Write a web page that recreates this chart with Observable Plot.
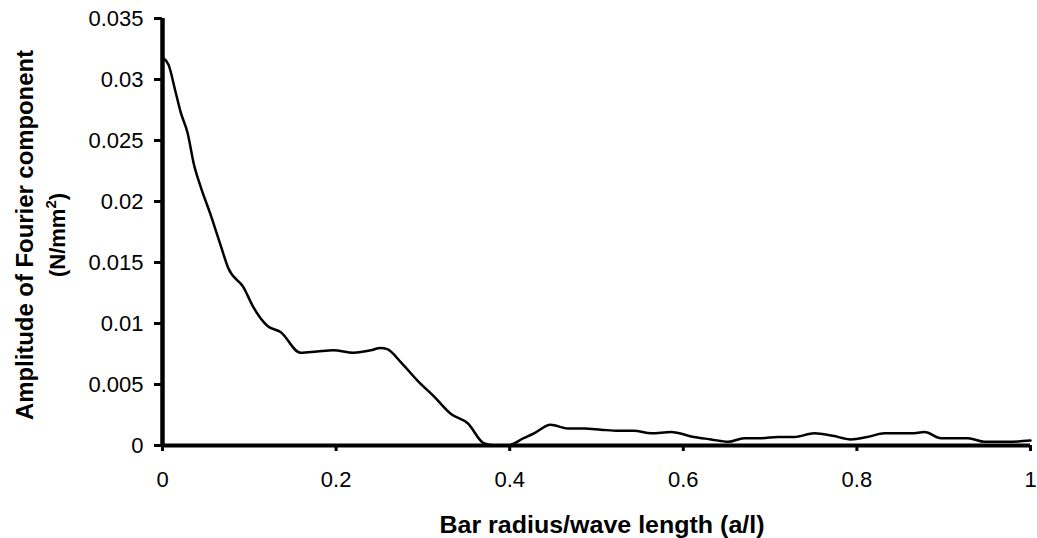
<!DOCTYPE html>
<html>
<head>
<meta charset="utf-8">
<script src="https://cdn.jsdelivr.net/npm/d3@7"></script>
<script src="https://cdn.jsdelivr.net/npm/@observablehq/plot@0.6"></script>
<style>
  html, body { margin: 0; padding: 0; background: #fff; }
  #chart svg { display: block; font-family: "Liberation Sans", Arial, sans-serif; }
</style>
</head>
<body>
<div id="chart"></div>
<script>
const ratio = [0, 0.007, 0.015, 0.021, 0.029, 0.036, 0.044, 0.055, 0.067, 0.076, 0.093, 0.105, 0.121, 0.136, 0.159, 0.178, 0.197, 0.220, 0.240, 0.251, 0.259, 0.275, 0.294, 0.313, 0.332, 0.352, 0.370, 0.385, 0.398, 0.416, 0.428, 0.447, 0.467, 0.486, 0.505, 0.525, 0.543, 0.563, 0.586, 0.612, 0.632, 0.652, 0.670, 0.690, 0.709, 0.728, 0.751, 0.772, 0.793, 0.812, 0.832, 0.863, 0.878, 0.897, 0.928, 0.947, 0.975, 1.0];
const amplitude = [0.0318, 0.0312, 0.0290, 0.0273, 0.0256, 0.0231, 0.0212, 0.0190, 0.0164, 0.0145, 0.0130, 0.0113, 0.0098, 0.0093, 0.0076, 0.0077, 0.0078, 0.0076, 0.0078, 0.0080, 0.0079, 0.0068, 0.0053, 0.0040, 0.0026, 0.0018, 0.0002, 0.0000, 0.0000, 0.0006, 0.0010, 0.0017, 0.0014, 0.0014, 0.0013, 0.0012, 0.0012, 0.0010, 0.0011, 0.0007, 0.0005, 0.0003, 0.0006, 0.0006, 0.0007, 0.0007, 0.0010, 0.0008, 0.0005, 0.0007, 0.0010, 0.0010, 0.0011, 0.0006, 0.0006, 0.0003, 0.0003, 0.0004];
const xTicks = [0, 0.2, 0.4, 0.6, 0.8, 1];
const yTicks = [0, 0.005, 0.01, 0.015, 0.02, 0.025, 0.03, 0.035];
const xTitle = "Bar radius/wave length (a/l)";
const yTitleLine1 = "Amplitude of Fourier component";
const yTitleLine2 = "(N/mm";

const data = ratio.map((r, i) => ({x: r, y: amplitude[i]}));
const fmt = d => String(+d.toFixed(3));

const W = 1037, H = 538;
const mL = 162, mT = 18, mR = 7, mB = 93;

const chart = Plot.plot({
  width: W,
  height: H,
  marginLeft: mL,
  marginTop: mT,
  marginRight: mR,
  marginBottom: mB,
  style: {fontFamily: "'Liberation Sans', Arial, sans-serif", color: "#000", background: "#fff"},
  x: {domain: [0, 1]},
  y: {domain: [0, 0.035]},
  marks: [
    Plot.axisX({ticks: xTicks, tickFormat: fmt, tickSize: 6, tickPadding: 20, strokeWidth: 3, label: null, fontSize: 22}),
    Plot.axisY({ticks: yTicks, tickFormat: fmt, tickSize: 8, tickPadding: 11, strokeWidth: 3, label: null, fontSize: 22}),
    Plot.ruleY([0], {strokeWidth: 4}),
    Plot.ruleX([0], {strokeWidth: 4.5}),
    Plot.line(data, {x: "x", y: "y", curve: "monotone-x", stroke: "#000", strokeWidth: 2.5})
  ]
});
document.getElementById("chart").appendChild(chart);

const svg = d3.select(chart);
svg.append("text")
  .attr("x", 602)
  .attr("y", 533)
  .attr("text-anchor", "middle")
  .attr("font-weight", "bold")
  .attr("font-size", 24)
  .attr("textLength", 325)
  .attr("lengthAdjust", "spacingAndGlyphs")
  .attr("fill", "#000")
  .text(xTitle);

const g = svg.append("g").attr("transform", `translate(0,235) rotate(-90)`);
g.append("text")
  .attr("x", 0).attr("y", 33)
  .attr("text-anchor", "middle")
  .attr("font-weight", "bold").attr("font-size", 23).attr("fill", "#000")
  .attr("textLength", 370)
  .attr("lengthAdjust", "spacingAndGlyphs")
  .text(yTitleLine1);
const t2 = g.append("text")
  .attr("x", 0).attr("y", 65)
  .attr("text-anchor", "middle")
  .attr("font-weight", "bold").attr("font-size", 22).attr("fill", "#000");
t2.append("tspan").text(yTitleLine2);
t2.append("tspan").attr("dy", -9).attr("font-size", 15).text("2");
t2.append("tspan").attr("dy", 9).text(")");
</script>
</body>
</html>
